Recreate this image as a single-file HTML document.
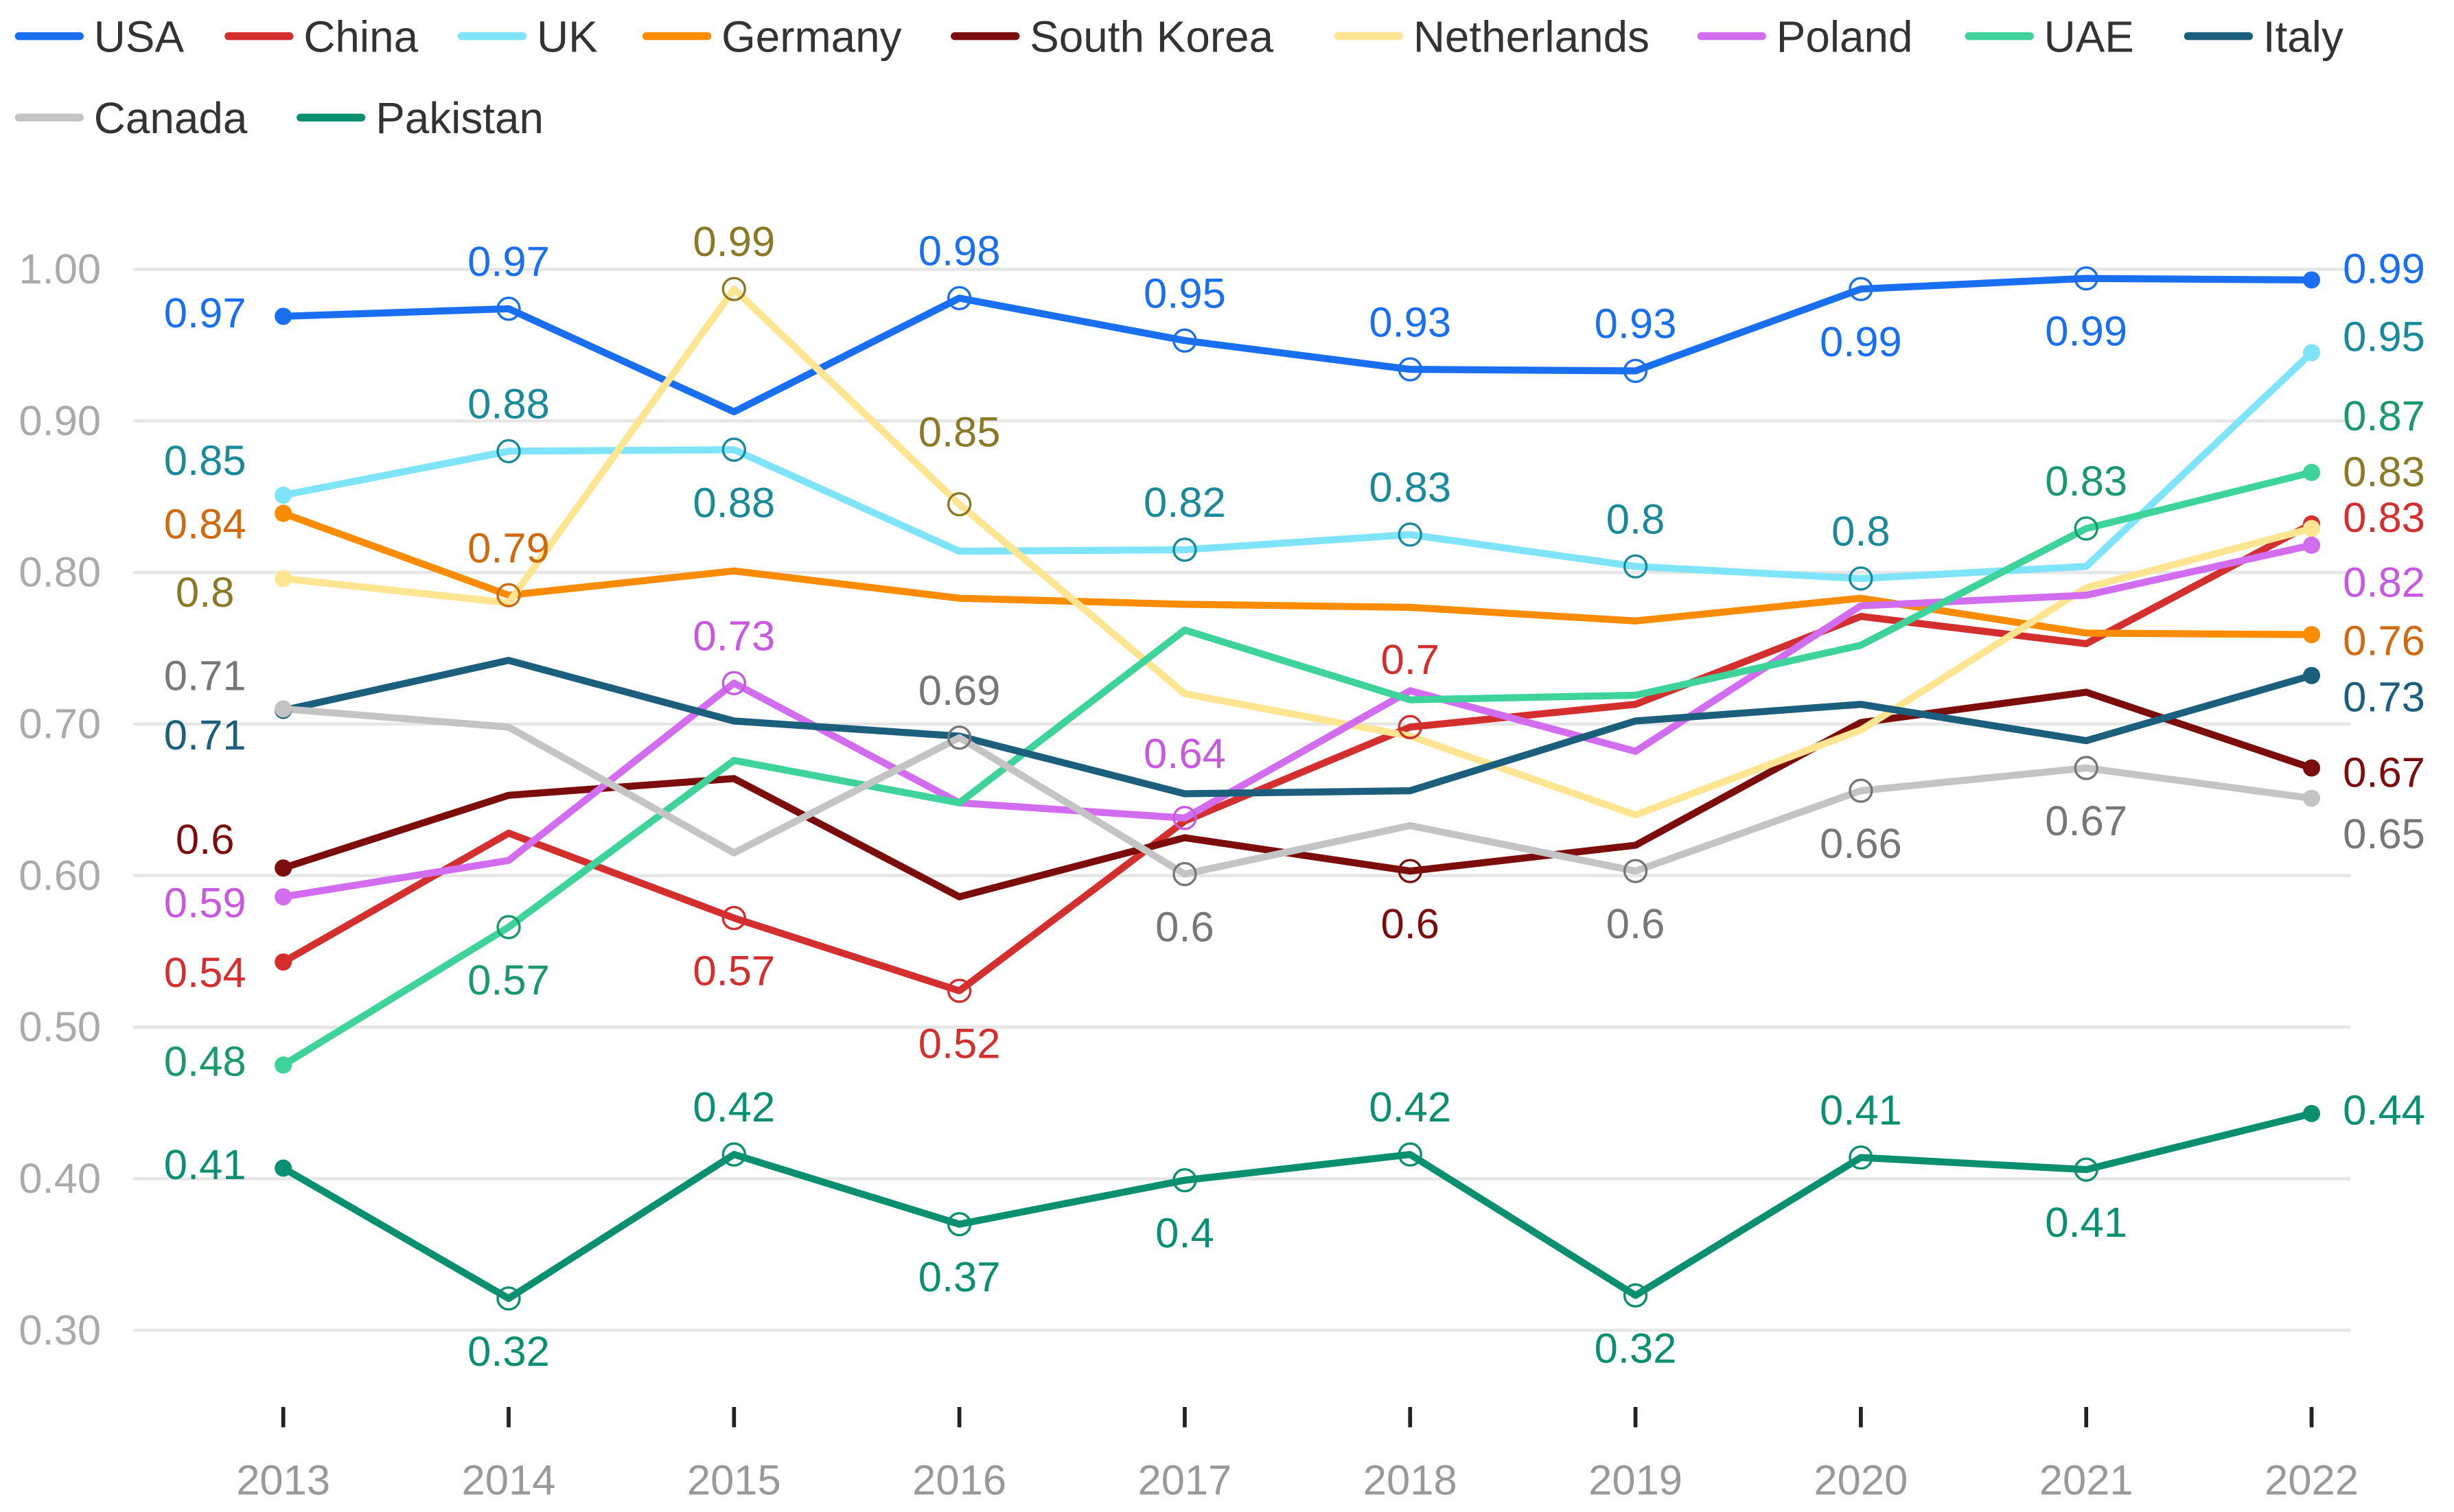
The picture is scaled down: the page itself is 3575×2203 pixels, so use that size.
<!DOCTYPE html>
<html><head><meta charset="utf-8">
<style>
html,body{margin:0;padding:0;background:#fff;}
svg{display:block;font-family:"Liberation Sans",Roboto,sans-serif;}
</style></head>
<body>
<svg id="chart" width="3575" height="2203" viewBox="0 0 1568 966" xmlns="http://www.w3.org/2000/svg">
<g id="grid"></g>
<g id="axes"></g>
<g id="lines"></g>
<g id="labels"></g>
<g id="legend"></g>
</svg>
<script>
const years = [2013,2014,2015,2016,2017,2018,2019,2020,2021,2022];
const yTicks = [0.30,0.40,0.50,0.60,0.70,0.80,0.90,1.00];
const seriesNames = ["USA","China","UK","Germany","South Korea","Netherlands","Poland","UAE","Italy","Canada","Pakistan"];
const usa = [0.969,0.974,0.906,0.981,0.953,0.934,0.933,0.987,0.994,0.993];
const china = [0.543,0.628,0.572,0.524,0.636,0.698,0.713,0.771,0.753,0.832];
const uk = [0.851,0.880,0.881,0.814,0.815,0.825,0.804,0.796,0.804,0.945];
const germany = [0.839,0.785,0.801,0.783,0.779,0.777,0.768,0.783,0.760,0.759];
const southKorea = [0.605,0.653,0.664,0.586,0.625,0.603,0.620,0.701,0.721,0.671];
const netherlands = [0.796,0.780,0.987,0.845,0.720,0.692,0.640,0.696,0.790,0.829];
const poland = [0.586,0.610,0.727,0.648,0.638,0.722,0.682,0.778,0.785,0.818];
const uae = [0.475,0.566,0.676,0.648,0.762,0.716,0.719,0.752,0.829,0.866];
const italy = [0.709,0.742,0.702,0.692,0.654,0.656,0.702,0.713,0.689,0.732];
const canada = [0.710,0.698,0.615,0.691,0.601,0.633,0.603,0.656,0.671,0.651];
const pakistan = [0.407,0.321,0.416,0.370,0.399,0.416,0.323,0.414,0.406,0.443];
const seriesValues = [usa,china,uk,germany,southKorea,netherlands,poland,uae,italy,canada,pakistan];
const lineColors = ["#1a6ff0","#d32f2f","#7fe4f8","#fb8c00","#7b0d0d","#fde592","#d26df0","#3ed39a","#1c5f7c","#c4c4c4","#0a9070"];
const labelColors = ["#1a6ff0","#d32f2f","#1a8a9a","#d06a10","#7b0d0d","#8a7a28","#c659e0","#1a9a6a","#1c5f7c","#777777","#0a9070"];
// labels: [seriesIndex, yearIndex, text, position, collision nudge]
const labelTexts = [
[0,0,"0.97","l",-2],[0,1,"0.97","a",0],[0,3,"0.98","a",0],[0,4,"0.95","a",0],[0,5,"0.93","a",0],[0,6,"0.93","a",0],[0,7,"0.99","b",0],[0,8,"0.99","b",0],[0,9,"0.99","r",-7],
[2,0,"0.85","l",-22],[2,1,"0.88","a",0],[2,2,"0.88","b",0],[2,4,"0.82","a",0],[2,5,"0.83","a",0],[2,6,"0.8","a",0],[2,7,"0.8","a",0],[2,9,"0.95","r",-10],
[3,0,"0.84","l",7],[3,1,"0.79","a",0],[3,9,"0.76","r",4],
[5,0,"0.8","l",9],[5,2,"0.99","a",0],[5,3,"0.85","a",-16],[5,9,"0.83","r",-36],
[1,0,"0.54","l",7],[1,2,"0.57","b",0],[1,3,"0.52","b",0],[1,5,"0.7","a",-13],[1,9,"0.83","r",-4],
[4,0,"0.6","l",-18],[4,5,"0.6","b",0],[4,9,"0.67","r",3],
[6,0,"0.59","l",4],[6,2,"0.73","a",0],[6,4,"0.64","a",-11],[6,9,"0.82","r",24],
[7,0,"0.48","l",-2],[7,1,"0.57","b",0],[7,8,"0.83","a",0],[7,9,"0.87","r",-36],
[8,0,"0.71","l",16],[8,9,"0.73","r",14],
[9,0,"0.71","l",-21],[9,3,"0.69","a",0],[9,4,"0.6","b",0],[9,6,"0.6","b",0],[9,7,"0.66","b",0],[9,8,"0.67","b",0],[9,9,"0.65","r",23],
[10,0,"0.41","l",-2],[10,1,"0.32","b",0],[10,2,"0.42","a",0],[10,3,"0.37","b",0],[10,4,"0.4","b",0],[10,5,"0.42","a",0],[10,6,"0.32","b",0],[10,7,"0.41","a",0],[10,8,"0.41","b",0],[10,9,"0.44","r",-2]
];
const NS="http://www.w3.org/2000/svg";
const X0=181,X1=1477,YTOP=172,YBOT=850,VTOP=1.0,VBOT=0.3;
function xs(i){return X0+(X1-X0)*i/(years.length-1);}
function ys(v){return YTOP+(VTOP-v)/(VTOP-VBOT)*(YBOT-YTOP);}
function mk(tag,attrs,parent){const e=document.createElementNS(NS,tag);for(const k in attrs)e.setAttribute(k,attrs[k]);parent.appendChild(e);return e;}
const grid=document.getElementById('grid'),axes=document.getElementById('axes'),lines=document.getElementById('lines'),labels=document.getElementById('labels'),legend=document.getElementById('legend');
yTicks.forEach(t=>{
  const l=mk('line',{x1:85,x2:1502,y1:ys(t),y2:ys(t),stroke:'#e6e6e6','stroke-width':2},grid);
  
  
  const tx=mk('text',{x:12,y:ys(t)+9,'font-size':27,fill:'#aaaaaa'},axes);
  tx.textContent=t.toFixed(2);
  
  
});
years.forEach((yr,i)=>{
  const tk=mk('line',{x1:xs(i),x2:xs(i),y1:899,y2:912,stroke:'#222','stroke-width':2.5},axes);
  
  
  const tx=mk('text',{x:xs(i),y:955,'font-size':27,fill:'#999','text-anchor':'middle'},axes);
  tx.textContent=yr;
  
  
});
seriesValues.forEach((vals,s)=>{
  const pts=vals.map((v,i)=>xs(i)+','+ys(v)).join(' ');
  const pl=mk('polyline',{points:pts,fill:'none',stroke:lineColors[s],'stroke-width':4.5,'stroke-linejoin':'round'},lines);
  
  
});
seriesValues.forEach((vals,s)=>{
  [0,vals.length-1].forEach(i=>{
    const c=mk('circle',{cx:xs(i),cy:ys(vals[i]),r:5.5,fill:lineColors[s]},lines);
    
    
  });
});
labelTexts.forEach(([s,i,txt,pos,nudge])=>{
  const px=xs(i),py=ys(seriesValues[s][i]);
  let x=px,y=py,anchor='middle';
  if(pos==='l'){x=131;y=py+nudge+9;}
  if(pos==='r'){x=1497;y=py+nudge+9;anchor='start';}
  if(pos==='a')y=py-21+nudge;
  if(pos==='b')y=py+43+nudge;
  if(i>0&&i<years.length-1){
    const c=mk('circle',{cx:px,cy:py,r:7,fill:'none',stroke:labelColors[s],'stroke-width':1.5},labels);
    
    
  }
  const t=mk('text',{x:x,y:y,'font-size':27,fill:labelColors[s],'text-anchor':anchor},labels);
  t.textContent=txt;
  
  
});
const legendRows=[[0,12,23],[1,146,23],[2,295,23],[3,413,23],[4,610,23],[5,855,23],[6,1087,23],[7,1258,23],[8,1398,23],[9,12,75],[10,192,75]];
legendRows.forEach(([s,x,y])=>{
  const g=mk('g',{},legend);
  
  
  mk('line',{x1:x,x2:x+39,y1:y,y2:y,stroke:lineColors[s],'stroke-width':5,'stroke-linecap':'round'},g);
  const t=mk('text',{x:x+48,y:y+10,'font-size':28,fill:'#333'},g);
  t.textContent=seriesNames[s];
});
</script>
</body></html>
